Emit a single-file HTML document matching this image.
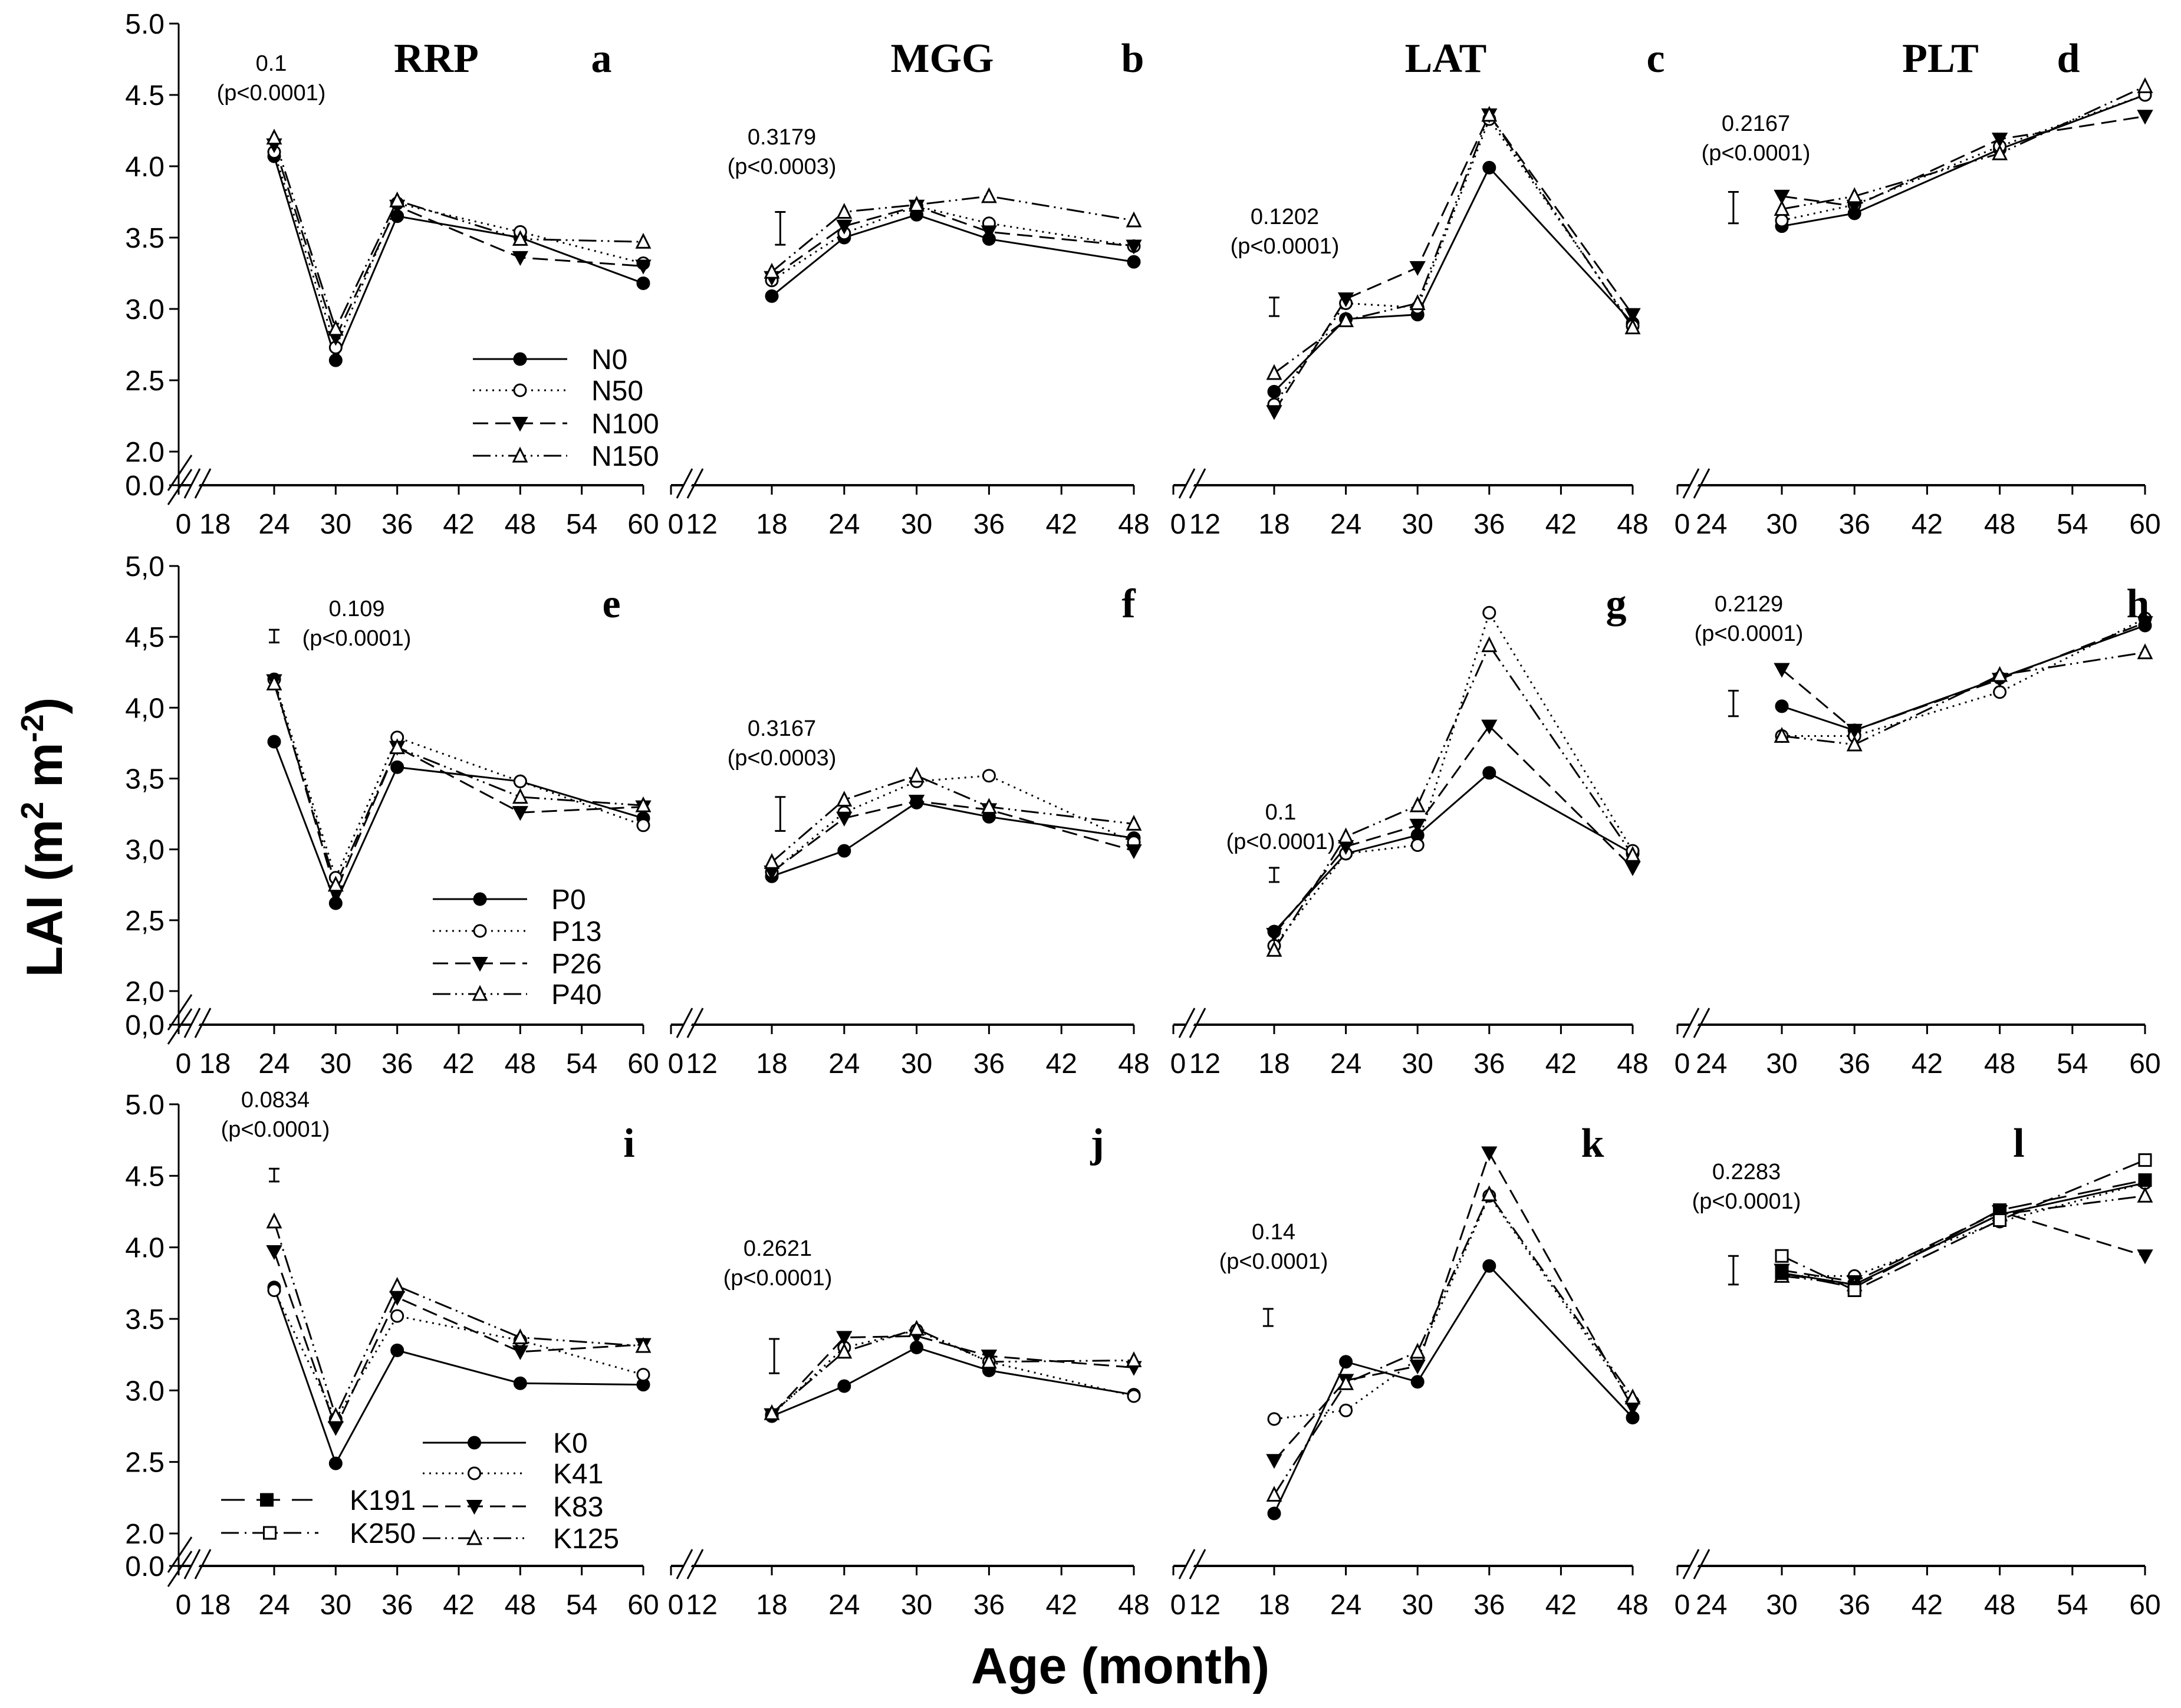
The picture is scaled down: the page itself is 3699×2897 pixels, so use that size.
<!DOCTYPE html>
<html><head><meta charset="utf-8"><style>
html,body{margin:0;padding:0;background:#fff}
svg{display:block}
</style></head><body>
<svg id="chart" xmlns="http://www.w3.org/2000/svg" width="3699" height="2897" viewBox="0 0 3699 2897">
<rect width="3699" height="2897" fill="#fff"/>
<text x="0" y="0" transform="translate(105,1420) rotate(-90)" text-anchor="middle" font-family="Liberation Sans, sans-serif" font-weight="bold" font-size="86">LAI (m<tspan font-size="54" dy="-32">2</tspan><tspan dy="32"> m</tspan><tspan font-size="54" dy="-32">-2</tspan><tspan dy="32">)</tspan></text>
<text x="1900" y="2855" text-anchor="middle" font-family="Liberation Sans, sans-serif" font-weight="bold" font-size="86">Age (month)</text>
<g id="plots"></g>
</svg>
<script>
// ---- data ----
const rowSeriesNames = [["N0","N50","N100","N150"],["P0","P13","P26","P40"],["K0","K41","K83","K125","K191","K250"]];
const colCrops = ["RRP","MGG","LAT","PLT"];
const panelLetters = [["a","b","c","d"],["e","f","g","h"],["i","j","k","l"]];
const ages1 = [24,30,36,48,60];
const ages2 = [18,24,30,36,48];
const ages3 = [18,24,30,36,48];
const ages4 = [30,36,48,60];
// row 1 (N)
const a_N0=[4.07,2.64,3.65,3.50,3.18], a_N50=[4.10,2.73,3.74,3.54,3.32], a_N100=[4.15,2.80,3.72,3.36,3.30], a_N150=[4.20,2.86,3.76,3.49,3.47];
const b_N0=[3.09,3.50,3.66,3.49,3.33], b_N50=[3.20,3.53,3.72,3.60,3.44], b_N100=[3.22,3.58,3.72,3.54,3.44], b_N150=[3.26,3.68,3.73,3.79,3.62];
const c_N0=[2.42,2.93,2.96,3.99,2.90], c_N50=[2.33,3.04,3.01,4.33,2.88], c_N100=[2.28,3.07,3.29,4.36,2.96], c_N150=[2.55,2.92,3.04,4.36,2.87];
const d_N0=[3.58,3.67,4.12,4.50], d_N50=[3.62,3.73,4.14,4.50], d_N100=[3.79,3.72,4.19,4.35], d_N150=[3.70,3.79,4.09,4.56];
// row 2 (P)
const e_P0=[3.76,2.62,3.58,3.48,3.22], e_P13=[4.20,2.80,3.79,3.48,3.17], e_P26=[4.19,2.70,3.72,3.26,3.30], e_P40=[4.17,2.75,3.72,3.37,3.31];
const f_P0=[2.81,2.99,3.33,3.23,3.08], f_P13=[2.84,3.26,3.48,3.52,3.05], f_P26=[2.84,3.22,3.34,3.28,2.99], f_P40=[2.91,3.35,3.52,3.30,3.18];
const g_P0=[2.42,2.97,3.10,3.54,2.97], g_P13=[2.32,2.97,3.03,4.67,2.99], g_P26=[2.40,3.02,3.17,3.87,2.87], g_P40=[2.29,3.09,3.31,4.44,2.96];
const h_P0=[4.01,3.84,4.21,4.58], h_P13=[3.80,3.80,4.11,4.63], h_P26=[4.27,3.84,4.20,4.60], h_P40=[3.80,3.74,4.23,4.39];
// row 3 (K)
const i_K0=[3.72,2.49,3.28,3.05,3.04], i_K41=[3.70,2.80,3.52,3.35,3.11], i_K83=[3.97,2.74,3.65,3.27,3.32], i_K125=[4.18,2.82,3.73,3.37,3.31];
const j_K0=[2.82,3.03,3.30,3.14,2.97], j_K41=[2.83,3.30,3.42,3.20,2.96], j_K83=[2.83,3.37,3.38,3.24,3.16], j_K125=[2.84,3.27,3.43,3.20,3.21];
const k_K0=[2.14,3.20,3.06,3.87,2.81], k_K41=[2.80,2.86,3.22,4.36,2.92], k_K83=[2.51,3.07,3.17,4.66,2.88], k_K125=[2.27,3.05,3.27,4.37,2.95];
const l_K0=[3.82,3.74,4.23,4.45], l_K41=[3.80,3.80,4.18,4.45], l_K83=[3.84,3.76,4.25,3.94], l_K125=[3.80,3.74,4.23,4.36], l_K191=[3.82,3.72,4.26,4.47], l_K250=[3.94,3.70,4.19,4.61];
const lsdValues = [["0.1","0.3179","0.1202","0.2167"],["0.109","0.3167","0.1","0.2129"],["0.0834","0.2621","0.14","0.2283"]];
const lsdP = [["(p<0.0001)","(p<0.0003)","(p<0.0001)","(p<0.0001)"],["(p<0.0001)","(p<0.0003)","(p<0.0001)","(p<0.0001)"],["(p<0.0001)","(p<0.0001)","(p<0.0001)","(p<0.0001)"]];
const errLow = [[null,3.45,2.95,3.60],[4.46,3.13,2.77,3.94],[4.46,3.12,3.45,3.74]];
const errHigh = [[null,3.68,3.08,3.82],[4.55,3.37,2.87,4.12],[4.55,3.36,3.57,3.94]];
const errAge = [[null,18.7,18,26],[24,18.7,18,26],[24,18.2,17.5,26]];
const tickLabels1 = ["0","18","24","30","36","42","48","54","60"];
const tickLabels2 = ["0","12","18","24","30","36","42","48"];
const tickLabels4 = ["0","24","30","36","42","48","54","60"];
const yTicks = [2.0,2.5,3.0,3.5,4.0,4.5,5.0];

const panelData = [
 [[a_N0,a_N50,a_N100,a_N150],[b_N0,b_N50,b_N100,b_N150],[c_N0,c_N50,c_N100,c_N150],[d_N0,d_N50,d_N100,d_N150]],
 [[e_P0,e_P13,e_P26,e_P40],[f_P0,f_P13,f_P26,f_P40],[g_P0,g_P13,g_P26,g_P40],[h_P0,h_P13,h_P26,h_P40]],
 [[i_K0,i_K41,i_K83,i_K125],[j_K0,j_K41,j_K83,j_K125],[k_K0,k_K41,k_K83,k_K125],[l_K0,l_K41,l_K83,l_K125,l_K191,l_K250]]
];
const colAges=[ages1,ages2,ages3,ages4];
const colTicks=[tickLabels1,tickLabels2,tickLabels2,tickLabels4];

// ---- layout ----
const NS="http://www.w3.org/2000/svg";
const root=document.getElementById('plots');
const cols=[{ax:303,v1:24,p1:465,v2:60,p2:1091},{ax:1138,v1:18,p1:1309,v2:48,p2:1923},{ax:1990,v1:18,p1:2161,v2:48,p2:2769},{ax:2845,v1:30,p1:3022,v2:60,p2:3638}];
const rows=[{y5:40,y2:766,y0:823,lab:905},{y5:960,y2:1681,y0:1738,lab:1820},{y5:1873,y2:2601,y0:2656,lab:2738}];
const styles=[
 {dash:null,m:'fc'},{dash:'3 8',m:'oc'},{dash:'26 12',m:'ft'},{dash:'30 8 3 8 3 8',m:'ot'},{dash:'40 20',m:'fs'},{dash:'30 10 3 10',m:'os'}];
function xs(c,v){const k=cols[c];return k.p1+(v-k.v1)*(k.p2-k.p1)/(k.v2-k.v1);}
function ys(r,v){const k=rows[r];return k.y2-(v-2)*(k.y2-k.y5)/3;}
function el(tag,attrs,parent){const e=document.createElementNS(NS,tag);for(const a in attrs)e.setAttribute(a,attrs[a]);(parent||root).appendChild(e);return e;}
const FONT="Liberation Sans, sans-serif";
function marker(g,t,x,y){
 const r=10;let m;
 if(t==='fc'||t==='oc')m=el('circle',{cx:x,cy:y,r:r,fill:t==='fc'?'#000':'#fff',stroke:'#000','stroke-width':3},g);
 else if(t==='ft')m=el('polygon',{points:`${x-12},${y-10} ${x+12},${y-10} ${x},${y+12}`,fill:'#000',stroke:'#000','stroke-width':2},g);
 else if(t==='ot')m=el('polygon',{points:`${x-11},${y+10} ${x+11},${y+10} ${x},${y-12}`,fill:'#fff',stroke:'#000','stroke-width':3},g);
 else m=el('rect',{x:x-10,y:y-10,width:20,height:20,fill:t==='fs'?'#000':'#fff',stroke:'#000','stroke-width':3},g);
 
 
}
for(let r=0;r<3;r++){for(let c=0;c<4;c++){
 const g=el('g',{});
 
 
 const R=rows[r],C=cols[c];
 const sh=c===0?0:-14;
 const xEnd=xs(c,colAges[c][colAges[c].length-1]);
 const xa=el('line',{x1:C.ax,y1:R.y0,x2:xEnd,y2:R.y0,stroke:'#000','stroke-width':4},g);
 
 
 el('line',{x1:C.ax+18,y1:R.y0+20,x2:C.ax+42,y2:R.y0-28,stroke:'#fff','stroke-width':12},g);
 el('line',{x1:C.ax+10,y1:R.y0+22,x2:C.ax+36,y2:R.y0-28,stroke:'#000','stroke-width':3},g);
 el('line',{x1:C.ax+28,y1:R.y0+22,x2:C.ax+54,y2:R.y0-28,stroke:'#000','stroke-width':3},g);
 const labs=colTicks[c];
 labs.forEach((lb,i)=>{
  let x;
  if(i===0)x=C.ax+8;
  else x=xs(c,+lb);
  if(i===0||i>=2) el('line',{x1:i===0?C.ax:x,y1:R.y0,x2:i===0?C.ax:x,y2:R.y0+16,stroke:'#000','stroke-width':3},g);
  const t=el('text',{x:i===1?x+4:x,y:R.lab,'text-anchor':'middle','font-family':FONT,'font-size':48},g);
  t.textContent=lb;
  
  
 });
 if(c===0){
  const ya=el('line',{x1:C.ax,y1:R.y5,x2:C.ax,y2:R.y2+40,stroke:'#000','stroke-width':3},g);
  
  
  el('line',{x1:C.ax,y1:R.y0-18,x2:C.ax,y2:R.y0,stroke:'#000','stroke-width':3},g);
  el('line',{x1:C.ax-18,y1:R.y2+66,x2:C.ax+22,y2:R.y2+6,stroke:'#000','stroke-width':3},g);
  el('line',{x1:C.ax-18,y1:R.y2+90,x2:C.ax+22,y2:R.y2+30,stroke:'#000','stroke-width':3},g);
  const yt=yTicks.concat([0]);
  yt.forEach(v=>{
   const y=v===0?R.y0:ys(r,v);
   el('line',{x1:C.ax-16,y1:y,x2:C.ax,y2:y,stroke:'#000','stroke-width':3},g);
   let s=v.toFixed(1); if(r===1)s=s.replace('.',',');
   const t=el('text',{x:C.ax-24,y:y+17,'text-anchor':'end','font-family':FONT,'font-size':48},g);
   t.textContent=s;
   
   
  });
 }
 const ages=colAges[c];
 panelData[r][c].forEach((vals,si)=>{
  const st=styles[si];
  const pts=vals.map((v,i)=>xs(c,ages[i])+','+ys(r,v)).join(' ');
  const pl=el('polyline',{points:pts,fill:'none',stroke:'#000','stroke-width':3});
  if(st.dash)pl.setAttribute('stroke-dasharray',st.dash);
  g.appendChild(pl);
  
  
 });
 panelData[r][c].forEach((vals,si)=>{vals.forEach((v,i)=>marker(g,styles[si].m,xs(c,ages[i]),ys(r,v)));});
 if(errLow[r][c]!==null){
  const ex=xs(c,errAge[r][c]),y1=ys(r,errLow[r][c]),y2=ys(r,errHigh[r][c]);
  const eb=el('line',{x1:ex,y1:y1,x2:ex,y2:y2,stroke:'#000','stroke-width':3},g);
  
  
  el('line',{x1:ex-9,y1:y1,x2:ex+9,y2:y1,stroke:'#000','stroke-width':3},g);
  el('line',{x1:ex-9,y1:y2,x2:ex+9,y2:y2,stroke:'#000','stroke-width':3},g);
 }
 const lsdX=[[460,1340,2193,2992],[605,1340,2186,2980],[467,1333,2174,2976]][r][c]+sh;
 const lsdY=[[120,245,380,222],[1045,1248,1390,1037],[1878,2130,2102,2000]][r][c];
 const t1=el('text',{x:lsdX,y:lsdY,'text-anchor':'middle','font-family':FONT,'font-size':38},g);
 t1.textContent=lsdValues[r][c];
 
 
 const t2=el('text',{x:lsdX,y:lsdY+50,'text-anchor':'middle','font-family':FONT,'font-size':38},g);
 t2.textContent=lsdP[r][c];
 
 
 if(r===0){
  const tx=[740,1612,2466,3305][c]+sh;
  const t=el('text',{x:tx,y:122,'text-anchor':'middle','font-family':'Liberation Serif, serif','font-weight':'bold','font-size':70},g);
  t.textContent=colCrops[c];
  
  
 }
 const lx=[[1020,1935,2822,3522],[1037,1928,2755,3640],[1067,1875,2715,3438]][r][c]+sh;
 const ly=[122,1047,1962][r];
 const lt=el('text',{x:lx,y:ly,'text-anchor':'middle','font-family':'Liberation Serif, serif','font-weight':'bold','font-size':70},g);
 lt.textContent=panelLetters[r][c];
 
 
}}
function legend(r,entries){
 const g=el('g',{});
 
 
 entries.forEach(en=>{
  const st=styles[en.s];
  const ln=el('line',{x1:en.x,y1:en.y,x2:en.x+en.w,y2:en.y,stroke:'#000','stroke-width':3},g);
  if(st.dash)ln.setAttribute('stroke-dasharray',st.dash);
  
  
  marker(g,st.m,en.x+en.w/2,en.y);
  const t=el('text',{x:en.tx,y:en.y+17,'font-family':FONT,'font-size':48},g);
  t.textContent=rowSeriesNames[r][en.s];
  
  
 });
}
legend(0,[0,1,2,3].map(i=>({s:i,x:802,w:160,y:[609,662,718,773][i],tx:1003})));
legend(1,[0,1,2,3].map(i=>({s:i,x:734,w:160,y:[1525,1579,1634,1686][i],tx:935})));
legend(2,[0,1,2,3].map(i=>({s:i,x:717,w:175,y:[2447,2499,2555,2609][i],tx:938})).concat([{s:4,x:375,w:155,y:2544,tx:593},{s:5,x:375,w:165,y:2600,tx:593}]));
</script>
</body></html>
